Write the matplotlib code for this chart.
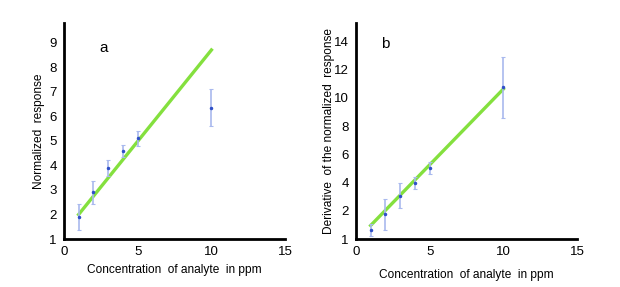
import matplotlib
matplotlib.use("Agg")
import matplotlib.pyplot as plt

plt.rcParams['font.family'] = ['Liberation Sans', 'DejaVu Sans']

conc = [1, 2, 3, 4, 5, 10]

# panel a
resp_a = [1.9, 2.9, 3.9, 4.6, 5.1, 6.35]
err_a = [0.52, 0.47, 0.33, 0.25, 0.3, 0.75]
fit_a_x = [1, 10]
fit_a_y = [2.0, 8.7]
yticks_a = [1, 2, 3, 4, 5, 6, 7, 8, 9]
yticklabels_a = ['1', '2', '3', '4', '5', '6', '7', '8', '9']

# panel b
resp_b = [0.64, 1.74, 3.08, 3.97, 5.03, 10.75]
err_b = [0.45, 1.08, 0.9, 0.45, 0.42, 2.15]
fit_b_x = [1, 10]
fit_b_y = [0.96, 10.63]
yticks_b = [0, 2, 4, 6, 8, 10, 12, 14]
yticklabels_b = ['1', '2', '4', '6', '8', '10', '12', '14']

xticks = [0, 5, 10, 15]
xticklabels = ['0', '5', '10', '15']

fig = plt.figure(figsize=(6.2, 2.87), dpi=100)
ax_a = fig.add_axes([0.103, 0.167, 0.357, 0.753])
ax_b = fig.add_axes([0.574, 0.167, 0.357, 0.753])

green = '#84e03e'
ebc = '#a9b9ee'
mkc = '#3050c8'

def style(ax):
    for s in ['top', 'right']:
        ax.spines[s].set_visible(False)
    for s in ['left', 'bottom']:
        ax.spines[s].set_linewidth(2)
        ax.spines[s].set_color('black')
    ax.tick_params(length=0, labelsize=9.5, pad=5)
    ax.set_xlim(0, 15)
    ax.set_xticks(xticks)
    ax.set_xticklabels(xticklabels)

# a
style(ax_a)
ax_a.plot(fit_a_x, fit_a_y, color=green, lw=2.4, zorder=2)
ax_a.errorbar(conc, resp_a, yerr=err_a, fmt='o', ms=1.5, color=mkc,
              ecolor=ebc, elinewidth=1.2, capsize=1.5, capthick=0.8, zorder=3)
ax_a.set_ylim(1, 9.8)
ax_a.set_yticks(yticks_a)
ax_a.set_yticklabels(yticklabels_a)
ax_a.text(2.4, 8.8, 'a', fontsize=11, va='center', ha='left')
ax_a.set_xlabel('Concentration  of analyte  in ppm', fontsize=8.6, labelpad=4)
ax_a.set_ylabel('Normalized  response', fontsize=8.6)
ax_a.yaxis.set_label_coords(-0.085, 0.5)

# b
style(ax_b)
ax_b.plot(fit_b_x, fit_b_y, color=green, lw=2.4, zorder=2)
ax_b.errorbar(conc, resp_b, yerr=err_b, fmt='o', ms=1.5, color=mkc,
              ecolor=ebc, elinewidth=1.2, capsize=1.5, capthick=0.8, zorder=3)
ax_b.set_ylim(0, 15.3)
ax_b.set_yticks(yticks_b)
ax_b.set_yticklabels(yticklabels_b)
ax_b.text(1.7, 13.8, 'b', fontsize=11, va='center', ha='left')
ax_b.set_xlabel('Concentration  of analyte  in ppm', fontsize=8.6, labelpad=8)
ax_b.set_ylabel('Derivative  of the normalized  response', fontsize=8.6)
ax_b.yaxis.set_label_coords(-0.095, 0.5)

fig.savefig('out.png', dpi=100)
